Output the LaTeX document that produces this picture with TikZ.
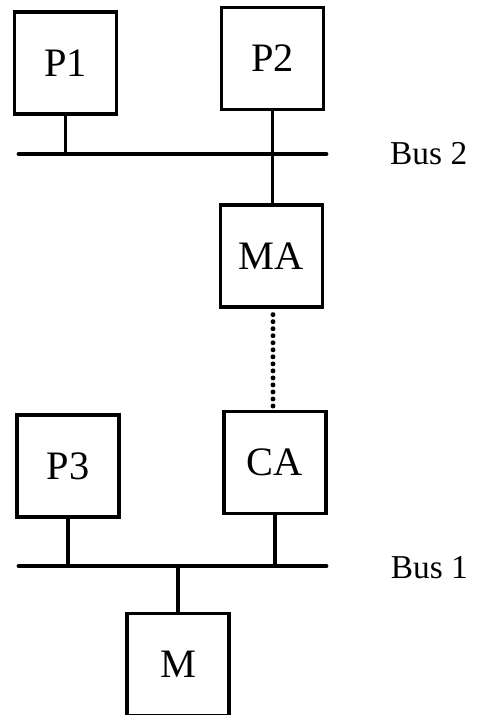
\documentclass[tikz,border=0pt]{standalone}
\usepackage{fontspec}
\setmainfont{Liberation Serif}
\usepackage{tikz}
\usetikzlibrary{calc}

\begin{document}
\begin{tikzpicture}[x=0.02cm,y=-0.02cm,
	unitbox/.style={draw,line width=1.9pt,minimum width=2.04cm,minimum height=2.04cm,inner sep=0pt,font=\fontsize{23}{27}\selectfont},
	busline/.style={line width=2.8pt,line cap=round},
	tap/.style={line width=1.8pt},
	buslabel/.style={font=\fontsize{19}{23}\selectfont}]
	\useasboundingbox (0,0) rectangle (477,715);
	
	\node[unitbox] (P1) at (65.5,63) {P1};
	\node[unitbox] (P2) at (272.5,58.5) {P2};
	\node[unitbox] (MA) at (271.5,256) {MA};
	\node[unitbox] (CA) at (275,462.5) {CA};
	\node[unitbox] (P3) at (68,466) {P3};
	\node[unitbox] (M) at (178,664.5) {M};
	
	\coordinate (B2w) at (19,154);
	\coordinate (B2e) at (326,154);
	\coordinate (B1w) at (19,566);
	\coordinate (B1e) at (326,566);
	
	\draw[busline] (B2w)--(B2e);
	\draw[busline] (B1w)--(B1e);
	\node[buslabel,anchor=west] (bus2) at (384,154) {Bus 2};
	\node[buslabel,anchor=east] (bus1) at (474,568) {Bus 1};
	
	\draw[tap] (P1.south)--(P1.south |- B2w);
	\draw[tap] (P2.south)--(P2.south |- MA.north);
	\draw[tap] (P3.south)--(P3.south |- B1w);
	\draw[tap] (CA.south)--(CA.south |- B1w);
	\draw[tap] (M.north)--(M.north |- B1w);
	
	\draw[line width=2.8pt,line cap=round,dash pattern=on 0pt off 4pt] ($(MA.south)+(1.5,6)$)--($(CA.north)+(-2,-2)$);
\end{tikzpicture}
\end{document}
